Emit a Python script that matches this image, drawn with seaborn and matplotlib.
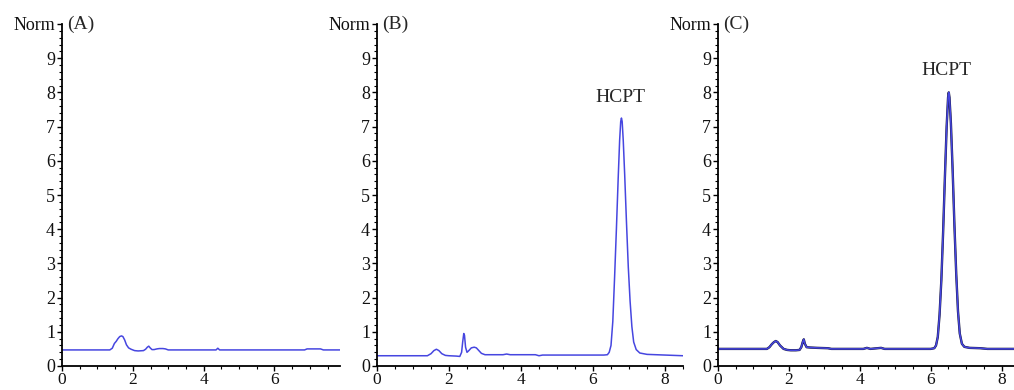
import numpy as np
import pandas as pd
import matplotlib
matplotlib.use("Agg")
import matplotlib.pyplot as plt
import seaborn as sns
from matplotlib.ticker import MultipleLocator

# chromatogram traces (time in min, normalised signal)
a_time = [0, 1.35, 1.42, 1.48, 1.53, 1.58, 1.63, 1.68, 1.72, 1.77, 1.82, 1.88,
          1.95, 2.05, 2.15, 2.3, 2.36, 2.41, 2.45, 2.49, 2.54, 2.6, 2.68, 2.75,
          2.85, 2.92, 3.0, 4.35, 4.4, 4.45, 6.85, 6.92, 7.3, 7.38, 7.85]
a_sig = [0.47, 0.47, 0.52, 0.66, 0.72, 0.80, 0.86, 0.88, 0.86, 0.76, 0.62, 0.53,
         0.49, 0.45, 0.44, 0.45, 0.49, 0.55, 0.58, 0.53, 0.48, 0.48, 0.50, 0.51,
         0.51, 0.50, 0.47, 0.47, 0.52, 0.47, 0.47, 0.50, 0.50, 0.47, 0.47]

b_time = [0, 1.4, 1.5, 1.58, 1.65, 1.72, 1.8, 1.9, 2.0, 2.2, 2.3, 2.35,
          2.38, 2.41, 2.43, 2.46, 2.5, 2.55, 2.62, 2.7, 2.76, 2.83, 2.9, 3.0,
          3.5, 3.6, 3.7, 4.4, 4.5, 4.6, 6.3, 6.4, 6.45, 6.5, 6.55, 6.6,
          6.65, 6.7, 6.74, 6.77, 6.79, 6.81, 6.84, 6.88, 6.93, 6.98, 7.03, 7.08,
          7.13, 7.2, 7.3, 7.5, 8.0, 8.5]
b_sig = [0.30, 0.30, 0.36, 0.45, 0.49, 0.45, 0.36, 0.31, 0.30, 0.29, 0.28, 0.40,
         0.70, 0.95, 0.90, 0.55, 0.40, 0.45, 0.53, 0.55, 0.53, 0.45, 0.37, 0.33,
         0.33, 0.35, 0.33, 0.33, 0.30, 0.32, 0.32, 0.33, 0.40, 0.60, 1.3, 2.6,
         4.0, 5.5, 6.6, 7.15, 7.25, 7.15, 6.6, 5.6, 4.2, 2.9, 1.9, 1.15,
         0.70, 0.48, 0.38, 0.34, 0.32, 0.30]

c_time = [0, 1.38, 1.45, 1.52, 1.58, 1.63, 1.68, 1.75, 1.85, 1.95, 2.05, 2.2,
          2.3, 2.35, 2.39, 2.42, 2.45, 2.5, 2.6, 2.8, 3.1, 3.2, 4.1, 4.2,
          4.3, 4.5, 4.6, 4.7, 6.0, 6.1, 6.15, 6.2, 6.25, 6.3, 6.35, 6.4,
          6.45, 6.49, 6.51, 6.53, 6.57, 6.62, 6.67, 6.72, 6.77, 6.82, 6.88, 6.95,
          7.1, 7.4, 7.6, 8.35]
c_sig = [0.50, 0.50, 0.55, 0.64, 0.70, 0.73, 0.70, 0.60, 0.50, 0.47, 0.46, 0.46,
         0.47, 0.55, 0.70, 0.78, 0.65, 0.55, 0.54, 0.53, 0.52, 0.50, 0.50, 0.53,
         0.50, 0.52, 0.53, 0.50, 0.50, 0.52, 0.60, 0.85, 1.5, 2.5, 3.9, 5.5,
         7.0, 7.85, 8.0, 7.85, 7.1, 5.7, 4.1, 2.7, 1.6, 0.95, 0.65, 0.56,
         0.53, 0.52, 0.50, 0.50]

panel_labels = ["(A)", "(B)", "(C)"]
x_max = [7.85, 8.5, 8.35]
x_ticks = [[0, 2, 4, 6], [0, 2, 4, 6, 8], [0, 2, 4, 6, 8]]
y_ticks = list(range(11))
y_ticklabels = [str(v) for v in range(10)] + ["Norm"]
peak_name = "HCPT"
peak_label_pos = [None, (6.76, 7.85), (6.45, 8.65)]

BLUE = "#4646e0"

sns.set_theme(style="ticks")
plt.rcParams["font.family"] = ["Liberation Serif", "DejaVu Serif"]

fig = plt.figure(figsize=(10.14, 3.9), dpi=100)
boxes = [
    [62 / 1014, 24 / 390, 278 / 1014, 342 / 390],
    [377 / 1014, 24 / 390, 306 / 1014, 342 / 390],
    [718 / 1014, 24 / 390, 296 / 1014, 342 / 390],
]
axes = [fig.add_axes(b) for b in boxes]

traces = [(a_time, a_sig), (b_time, b_sig), (c_time, c_sig)]

for i, (ax, (t, s)) in enumerate(zip(axes, traces)):
    df = pd.DataFrame({"time": t, "signal": s})
    if i == 2:
        # two overlaid traces: dark one underneath, blue one on top
        sns.lineplot(data=df, x="time", y="signal", ax=ax, color="#15153a",
                     lw=1.7, estimator=None, sort=False)
    sns.lineplot(data=df, x="time", y="signal", ax=ax, color=BLUE,
                 lw=1.1, estimator=None, sort=False)

    ax.set_xlim(0, x_max[i])
    ax.set_ylim(0, 10)
    ax.set_xticks(x_ticks[i])
    ax.set_yticks(y_ticks)
    ax.set_yticklabels(y_ticklabels)
    ax.xaxis.set_minor_locator(MultipleLocator(0.5))
    ax.yaxis.set_minor_locator(MultipleLocator(0.2))
    ax.tick_params(axis="both", which="major", labelsize=13, length=3.5,
                   width=1.0, color="black", labelcolor="#111111")
    ax.tick_params(axis="y", which="major", pad=1.5)
    ax.tick_params(axis="x", which="major", pad=0.8, labelsize=12.5)
    ax.tick_params(axis="both", which="minor", length=2, width=0.8, color="black")
    ax.set_xlabel("")
    ax.set_ylabel("")
    sns.despine(ax=ax)
    for side in ["left", "bottom"]:
        ax.spines[side].set_linewidth(1.3)
        ax.spines[side].set_color("black")

    ax.text(0.15, 10, panel_labels[i], fontsize=14, va="center", ha="left")
    if peak_label_pos[i] is not None:
        px, py = peak_label_pos[i]
        ax.text(px, py, peak_name, fontsize=14, ha="center", va="center")

fig.savefig("out.png", dpi=100)
